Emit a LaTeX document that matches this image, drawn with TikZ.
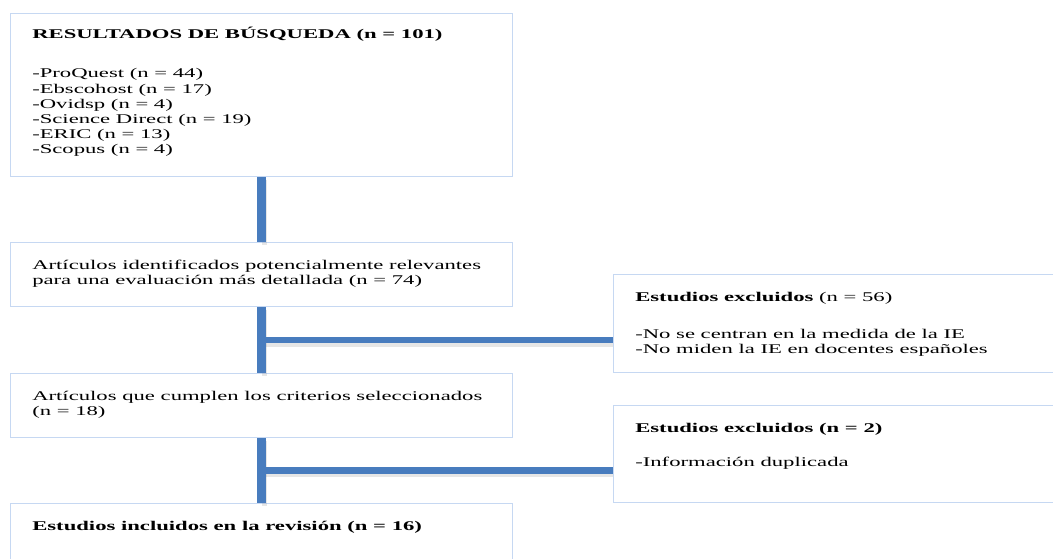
\documentclass[tikz,border=0pt]{standalone}
\usepackage{fontspec}
\setmainfont{Liberation Serif}[FakeStretch=1.7]
\usetikzlibrary{positioning,calc}

\definecolor{boxline}{RGB}{198,216,242}
\definecolor{connblue}{RGB}{72,124,190}

\tikzset{
	box/.style={draw=boxline, line width=0.9pt, anchor=north west, minimum width=376.5pt, inner sep=0pt},
	txt/.style={anchor=north west, align=left, inner sep=0pt, font=\fontsize{10}{11.4}\selectfont},
	vconn/.style={line width=6.5pt, color=connblue},
	hconn/.style={line width=5pt, color=connblue},
	shade/.style={line width=4pt, color=black!50, opacity=0.2}
}

\begin{document}
\begin{tikzpicture}[x=0.75pt,y=0.75pt]
	%%%%% START %%%%%
	\clip (0,0) rectangle (1053,-558);

	% left column
	\node[box, minimum height=122.25pt] (res) at (10,-13) {};
	\node[box, minimum height=48pt] (ident) at (10,-242) {};
	\node[box, minimum height=48pt] (crit) at (10,-373) {};
	\node[box, minimum height=50pt] (incl) at (10,-503) {};

	% right column
	\node[box, minimum width=336pt, minimum height=73.5pt] (excla) at (613,-274) {};
	\node[box, minimum width=336pt, minimum height=72.75pt] (exclb) at (613,-405) {};

	% texts
	\node[txt] (restxt) at ([shift={(22,-14)}]res.north west)
		{\textbf{RESULTADOS DE BÚSQUEDA (n = 101)}\\[18pt]
		-ProQuest (n = 44)\\
		-Ebscohost (n = 17)\\
		-Ovidsp (n = 4)\\
		-Science Direct (n = 19)\\
		-ERIC (n = 13)\\
		-Scopus (n = 4)};
	\node[txt] (identtxt) at ([shift={(22,-18)}]ident.north west)
		{Artículos identificados potencialmente relevantes\\
		para una evaluación más detallada (n = 74)};
	\node[txt] (crittxt) at ([shift={(22,-18)}]crit.north west)
		{Artículos que cumplen los criterios seleccionados\\
		(n = 18)};
	\node[txt] (incltxt) at ([shift={(22,-18)}]incl.north west)
		{\textbf{Estudios incluidos en la revisión (n = 16)}};
	\node[txt] (exclatxt) at ([shift={(22,-18)}]excla.north west)
		{\textbf{Estudios excluidos} (n = 56)\\[16pt]
		-No se centran en la medida de la IE\\
		-No miden la IE en docentes españoles};
	\node[txt] (exclbtxt) at ([shift={(22,-18)}]exclb.north west)
		{\textbf{Estudios excluidos (n = 2)}\\[14pt]
		-Información duplicada};

	% branch points
	\coordinate (ma) at ($(ident.south)!0.5!(crit.north)$);
	\coordinate (mb) at ($(crit.south)!0.5!(incl.north)$);

	% shadows
	\draw[shade] ([shift={(3,-3)}]res.south) -- ([shift={(3,-3)}]ident.north);
	\draw[shade] ([shift={(3,-3)}]ident.south) -- ([shift={(3,-3)}]crit.north);
	\draw[shade] ([shift={(3,-3)}]crit.south) -- ([shift={(3,-3)}]incl.north);
	\draw[shade] ([shift={(3,-4)}]ma) -- ([shift={(0,-4)}]ma -| excla.west);
	\draw[shade] ([shift={(3,-4)}]mb) -- ([shift={(0,-4)}]mb -| exclb.west);

	% connectors
	\draw[vconn] (res.south) -- (ident.north);
	\draw[vconn] (ident.south) -- (crit.north);
	\draw[vconn] (crit.south) -- (incl.north);
	\draw[hconn] (ma) -- (ma -| excla.west);
	\draw[hconn] (mb) -- (mb -| exclb.west);

	%%%%% END %%%%%
\end{tikzpicture}
\end{document}
